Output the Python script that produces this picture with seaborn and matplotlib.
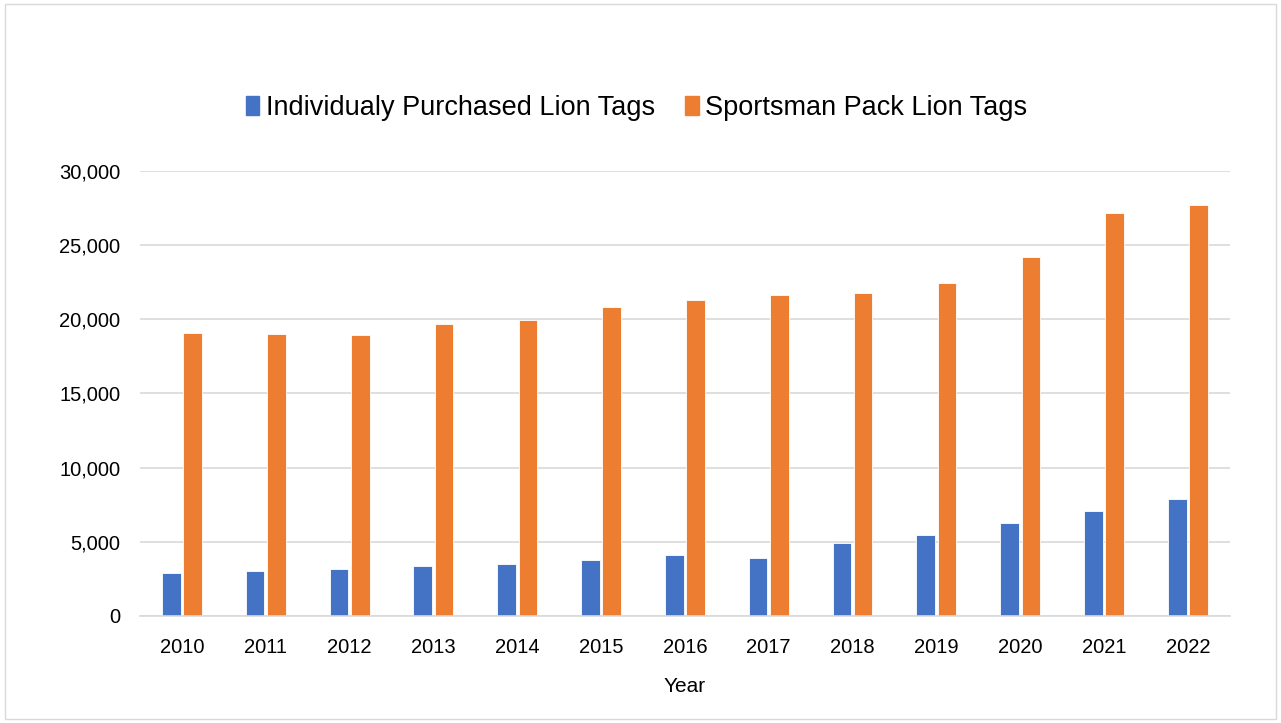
import matplotlib
matplotlib.use("Agg")
import matplotlib.pyplot as plt
import matplotlib.patches as mpatches
import pandas as pd
import seaborn as sns

years = [2010, 2011, 2012, 2013, 2014, 2015, 2016, 2017, 2018, 2019, 2020, 2021, 2022]
individual_tags = [2930, 3040, 3170, 3350, 3490, 3760, 4110, 3940, 4950, 5450, 6250, 7110, 7920]
sportsman_tags = [19050, 19000, 18920, 19660, 19950, 20810, 21280, 21620, 21800, 22450, 24180, 27170, 27710]
series_names = ["Individualy Purchased Lion Tags", "Sportsman Pack Lion Tags"]
colors = ["#4472C4", "#ED7D31"]


def main():
    sns.set_theme(style="white")
    plt.rcParams['font.family'] = ['Liberation Sans', 'DejaVu Sans']
    plt.rcParams['text.color'] = "#000000"
    plt.rcParams['axes.labelcolor'] = "#000000"
    plt.rcParams['xtick.color'] = "#000000"
    plt.rcParams['ytick.color'] = "#000000"

    df = pd.DataFrame({
        "Year": [str(y) for y in years] * 2,
        "Tags": individual_tags + sportsman_tags,
        "Series": [series_names[0]] * len(years) + [series_names[1]] * len(years),
    })

    fig = plt.figure(figsize=(12.81, 7.23), dpi=100)
    ax = fig.add_axes([0.1093, 0.148, 0.8507, 0.6155])

    sns.barplot(data=df, x="Year", y="Tags", hue="Series", palette=colors,
                saturation=1, width=0.508, gap=0.126, edgecolor="white",
                linewidth=0.6, ax=ax, legend=False)

    ax.set_ylim(0, 30000)
    ax.set_yticks(range(0, 30001, 5000))
    ax.set_yticklabels([f"{v:,}" for v in range(0, 30001, 5000)], fontsize=14.5)
    ax.tick_params(axis="x", labelsize=14.5, length=0, pad=16)
    ax.tick_params(axis="y", length=0, pad=14)
    ax.yaxis.grid(True, color="#d9d9d9", linewidth=1.2)
    ax.set_axisbelow(True)
    for side in ["top", "right", "left"]:
        ax.spines[side].set_visible(False)
    ax.spines["bottom"].set_color("#d9d9d9")
    ax.spines["bottom"].set_linewidth(1.2)
    ax.set_xlim(-0.5, len(years) - 0.5)
    ax.set_xlabel("Year", fontsize=15, labelpad=14)
    ax.set_ylabel("")

    handles = [mpatches.Patch(color=c, label=n) for c, n in zip(colors, series_names)]
    fig.legend(handles=handles, loc="center", bbox_to_anchor=(0.497, 0.851),
               ncol=2, frameon=False, fontsize=19.5, handlelength=0.5,
               handleheight=0.7, handletextpad=0.25, columnspacing=1.1)

    fig.patches.append(mpatches.Rectangle((0.004, 0.006), 0.992, 0.988,
                                          transform=fig.transFigure, fill=False,
                                          edgecolor="#d9d9d9", linewidth=1))

    fig.savefig("out.png", dpi=100)


if __name__ == "__main__":
    main()
